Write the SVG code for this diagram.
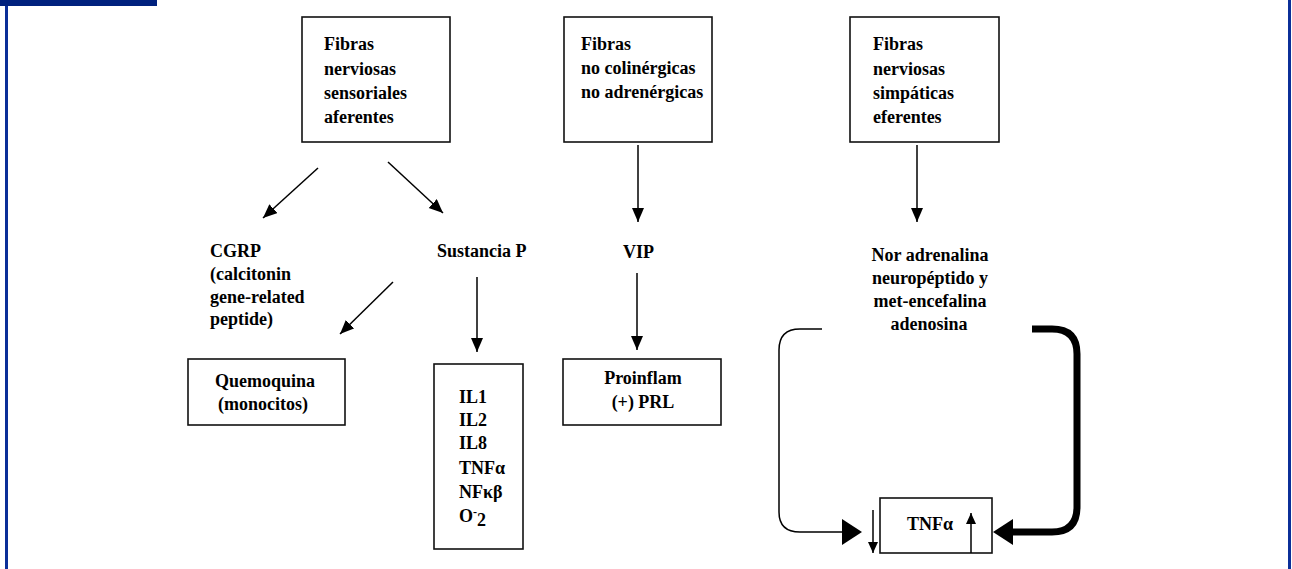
<svg xmlns="http://www.w3.org/2000/svg" width="1292" height="569" viewBox="0 0 1292 569">
<style>
.t{font-family:"Liberation Serif","Times New Roman",serif;font-weight:bold;font-size:18px;fill:#000}
.c{text-anchor:middle}
.box{fill:#fff;stroke:#111;stroke-width:1.6}
.ln{fill:none;stroke:#000;stroke-width:1.5}
</style>
<defs>
<marker id="ah" markerUnits="userSpaceOnUse" markerWidth="14" markerHeight="14" refX="14" refY="6" orient="auto">
<path d="M0,0 L14,6 L0,12 z" fill="#000"/>
</marker>
<marker id="ahs" markerUnits="userSpaceOnUse" markerWidth="12" markerHeight="12" refX="11" refY="5" orient="auto">
<path d="M0,0 L11,5 L0,10 z" fill="#000"/>
</marker>
</defs>
<rect width="1292" height="569" fill="#fff"/>
<g id="frame">
<rect x="0" y="0" width="157" height="6" fill="#00217e"/>
<rect x="5" y="6" width="3" height="563" fill="#0b2f98"/>
<rect x="1288" y="0" width="3" height="569" fill="#0b2f98"/>
</g>
<g id="n-sensoriales">
<rect class="box" x="302" y="17" width="148" height="125"/>
<text class="t" x="324" y="50">Fibras</text>
<text class="t" x="324" y="75">nerviosas</text>
<text class="t" x="324" y="99">sensoriales</text>
<text class="t" x="324" y="123">aferentes</text>
</g>
<g id="n-nocolinergicas">
<rect class="box" x="564" y="17" width="148" height="125"/>
<text class="t" x="581" y="50">Fibras</text>
<text class="t" x="581" y="74">no colinérgicas</text>
<text class="t" x="581" y="98">no adrenérgicas</text>
</g>
<g id="n-simpaticas">
<rect class="box" x="850" y="17" width="149" height="125"/>
<text class="t" x="873" y="50">Fibras</text>
<text class="t" x="873" y="75">nerviosas</text>
<text class="t" x="873" y="99">simpáticas</text>
<text class="t" x="873" y="123">eferentes</text>
</g>
<g id="n-cgrp">
<text class="t" x="210" y="257">CGRP</text>
<text class="t" x="210" y="280">(calcitonin</text>
<text class="t" x="210" y="303">gene-related</text>
<text class="t" x="210" y="325">peptide)</text>
</g>
<g id="n-sustancia">
<text class="t" x="437" y="257">Sustancia P</text>
</g>
<g id="n-vip">
<text class="t" x="623" y="258">VIP</text>
</g>
<g id="n-noradrenalina">
<text class="t c" x="930" y="261">Nor adrenalina</text>
<text class="t c" x="930" y="284">neuropéptido y</text>
<text class="t c" x="930" y="307">met-encefalina</text>
<text class="t c" x="929" y="330">adenosina</text>
</g>
<g id="n-quemoquina">
<rect class="box" x="188" y="359" width="157" height="66"/>
<text class="t c" x="265" y="387">Quemoquina</text>
<text class="t c" x="263" y="410">(monocitos)</text>
</g>
<g id="n-il">
<rect class="box" x="434" y="364" width="89" height="185"/>
<text class="t" x="459" y="403">IL1</text>
<text class="t" x="459" y="426">IL2</text>
<text class="t" x="459" y="449">IL8</text>
<text class="t" x="459" y="474">TNFα</text>
<text class="t" x="459" y="498">NFκβ</text>
<text class="t" x="459" y="522">O<tspan dy="-6" font-size="12">-</tspan><tspan dy="10">2</tspan></text>
</g>
<g id="n-proinflam">
<rect class="box" x="563" y="359" width="158" height="66"/>
<text class="t c" x="643" y="384">Proinflam</text>
<text class="t c" x="643" y="408">(+) PRL</text>
</g>
<g id="n-tnfa">
<rect class="box" x="880" y="498" width="112" height="55"/>
<text class="t" x="907" y="530">TNFα</text>
</g>
<g id="connectors">
<line class="ln" x1="318" y1="168" x2="263" y2="218" marker-end="url(#ah)"/>
<line class="ln" x1="388" y1="162" x2="443" y2="213" marker-end="url(#ah)"/>
<line class="ln" x1="638" y1="145" x2="638" y2="222" marker-end="url(#ah)"/>
<line class="ln" x1="917" y1="145" x2="917" y2="222" marker-end="url(#ah)"/>
<line class="ln" x1="393" y1="282" x2="340" y2="334" marker-end="url(#ah)"/>
<line class="ln" x1="477" y1="277" x2="477" y2="352" marker-end="url(#ah)"/>
<line class="ln" x1="637" y1="273" x2="637" y2="350" marker-end="url(#ah)"/>
<path class="ln" d="M822,329 H800 Q779,329 779,350 V512 Q779,532 800,532 H846"/>
<polygon points="862,532 842,519 842,545" fill="#000"/>
<path d="M1032,329 H1052 Q1077,329 1077,354 V507 Q1077,532 1052,532 H1010" fill="none" stroke="#000" stroke-width="7"/>
<polygon points="993,532 1013,519 1013,545" fill="#000"/>
<line class="ln" x1="873" y1="510" x2="873" y2="553" marker-end="url(#ahs)"/>
<line class="ln" x1="971" y1="553" x2="971" y2="513" marker-end="url(#ahs)"/>
</g>
</svg>
